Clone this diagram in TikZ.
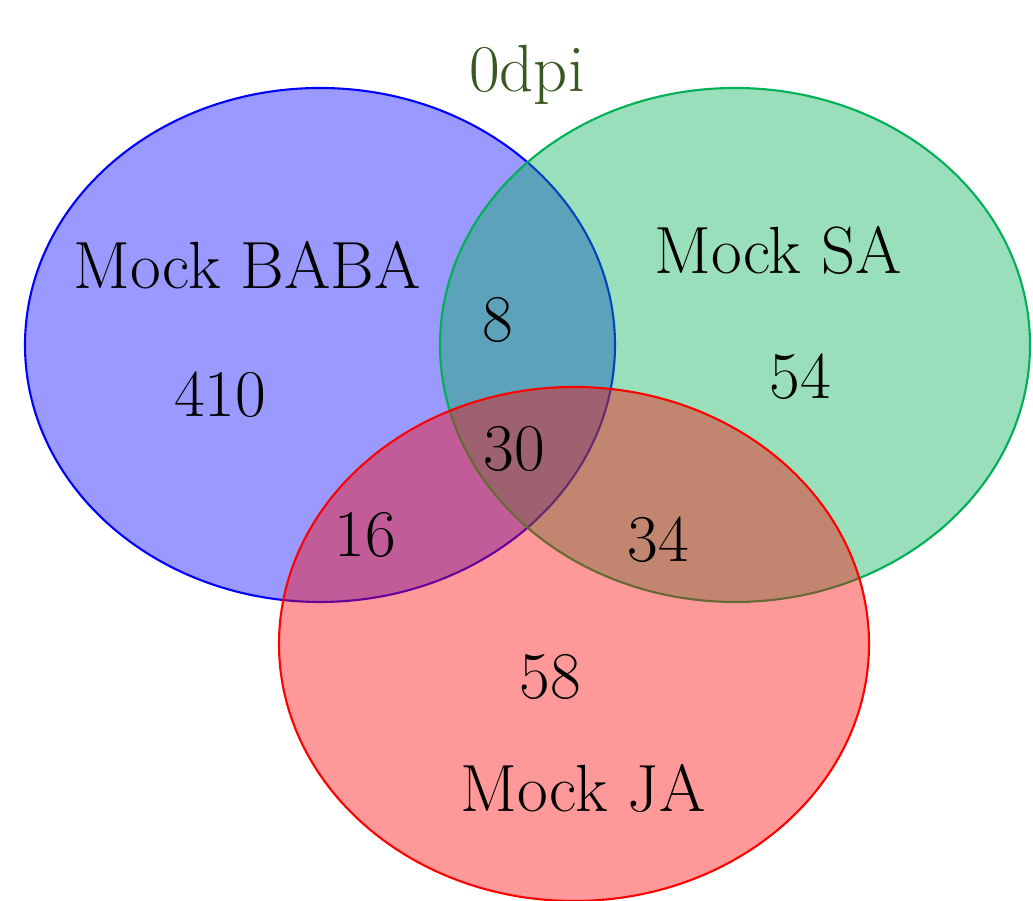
\documentclass[tikz,border=0pt]{standalone}
\usepackage{tikz}

\definecolor{babablue}{RGB}{0,0,255}
\definecolor{sagreen}{RGB}{0,176,84}
\definecolor{jared}{RGB}{255,0,0}
\definecolor{titlegreen}{RGB}{58,88,34}

\tikzstyle{set} = [line width=0.6pt, fill opacity=0.4]
\tikzstyle{lbl} = [font=\fontsize{19}{23}\selectfont, text=black, inner sep=0pt]

\begin{document}
\begin{tikzpicture}
    %\draw[step=1cm,gray,very thin] (0,0) grid (10.33,9.01);
	\useasboundingbox (0,0) rectangle (10.33,9.01);
	\draw[set, draw=babablue, fill=babablue] (3.20,5.56) ellipse (2.95 and 2.57);
	\draw[set, draw=sagreen, fill=sagreen] (7.35,5.56) ellipse (2.95 and 2.57);
	\draw[set, draw=jared, fill=jared] (5.74,2.57) ellipse (2.95 and 2.57);
	\node (Title) at (5.27,8.26) [lbl, text=titlegreen] {0dpi};
	\node (Baba) at (2.47,6.36) [lbl] {Mock BABA};
	\node (Sa) at (7.78,6.51) [lbl] {Mock SA};
	\node (Ja) at (5.83,1.13) [lbl] {Mock JA};
	\node (OnlyBaba) at (2.20,5.06) [lbl] {410};
	\node (OnlySa) at (8.00,5.24) [lbl] {54};
	\node (OnlyJa) at (5.50,2.24) [lbl] {58};
	\node (BabaSa) at (4.98,5.81) [lbl] {8};
	\node (All) at (5.14,4.52) [lbl] {30};
	\node (BabaJa) at (3.65,3.66) [lbl] {16};
	\node (SaJa) at (6.58,3.61) [lbl] {34};
\end{tikzpicture}
\end{document}
